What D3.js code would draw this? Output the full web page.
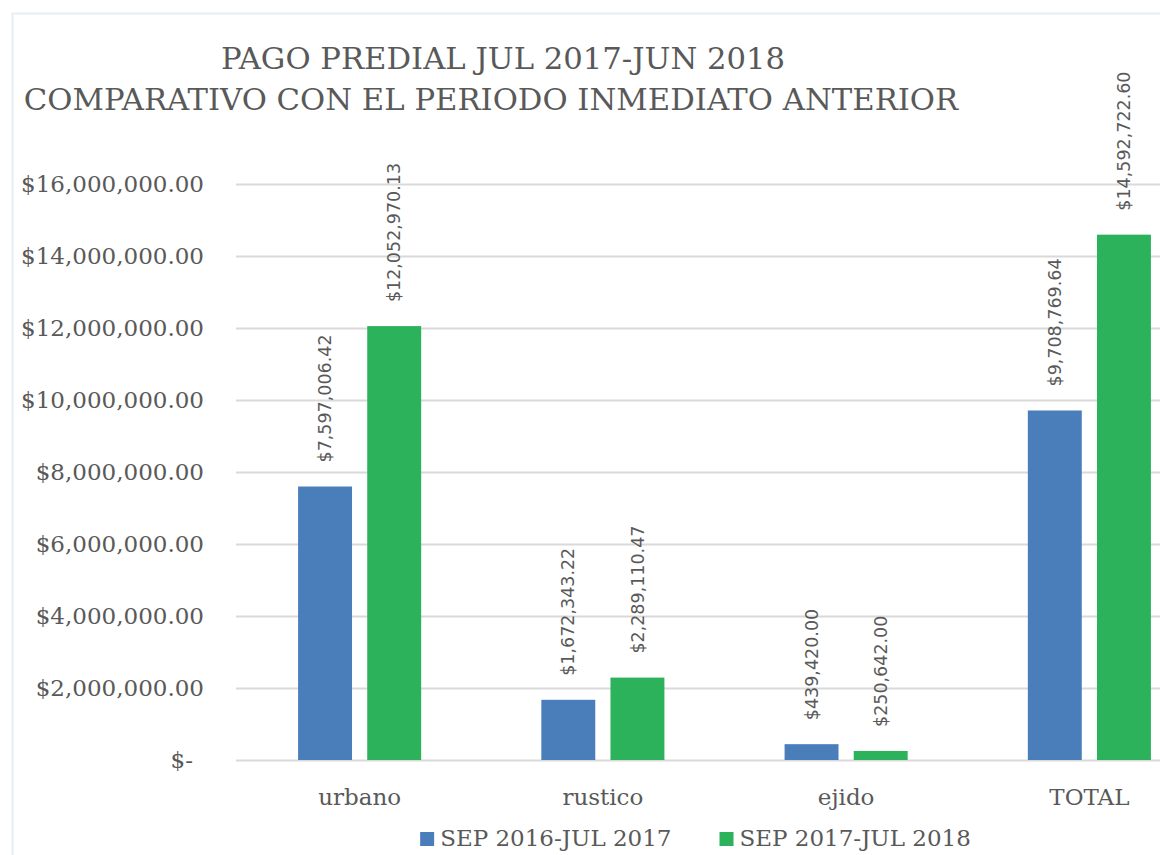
<!DOCTYPE html>
<html>
<head>
<meta charset="utf-8">
<script src="https://cdnjs.cloudflare.com/ajax/libs/d3/7.8.5/d3.min.js"></script>
<style>
  html, body { margin: 0; padding: 0; background: #fff; }
  svg { display: block; }
  .grid line { stroke: #d9d9d9; stroke-width: 2px; }
  .grid path { display: none; }
  .axis text { font-family: "DejaVu Serif", serif; fill: #595959; }
  .valueLabel { font-family: "DejaVu Sans", sans-serif; fill: #595959; }
</style>
</head>
<body>
<svg width="1160" height="855"></svg>
<script>
/*
data
*/
var titleLines = ["PAGO PREDIAL JUL 2017-JUN 2018", "COMPARATIVO CON EL PERIODO INMEDIATO ANTERIOR"];
var categories = ["urbano", "rustico", "ejido", "TOTAL"];
var seriesNames = ["SEP 2016-JUL 2017", "SEP 2017-JUL 2018"];
var prevValues = [7597006.42, 1672343.22, 439420.00, 9708769.64];
var currValues = [12052970.13, 2289110.47, 250642.00, 14592722.60];
var yTicks = [0, 2000000, 4000000, 6000000, 8000000, 10000000, 12000000, 14000000, 16000000];
var colors = ["#4a7ebb", "#2bb25b"];

var svg = d3.select("svg"),
    width = +svg.attr("width"),
    height = +svg.attr("height");

// faint frame of the original picture
svg.append("rect")
    .attr("x", 12.5).attr("y", 13.5)
    .attr("width", width).attr("height", height)
    .attr("fill", "none")
    .attr("stroke", "#e6eef3")
    .attr("stroke-width", 2);

var seriesData = [prevValues, currValues];

var x0 = d3.scaleBand()
    .domain(categories)
    .range([238, 1211])
    .paddingInner(0.494)
    .paddingOuter(0.247);

var x1 = d3.scaleBand()
    .domain(d3.range(seriesNames.length))
    .range([0, x0.bandwidth()])
    .paddingInner(0.22);

var yScale = d3.scaleLinear()
    .domain([0, 16000000])
    .range([760, 184]);

// title
svg.selectAll(".title")
    .data(titleLines)
    .enter().append("text")
      .attr("class", "title")
      .attr("x", function(d, i) { return i === 0 ? 503 : 491; })
      .attr("y", function(d, i) { return i === 0 ? 69 : 110; })
      .attr("text-anchor", "middle")
      .style("font-family", "'DejaVu Serif', serif")
      .style("font-size", "30.7px")
      .style("fill", "#595959")
      .text(function(d) { return d; });

// gridlines
svg.append("g")
    .attr("class", "grid")
    .attr("transform", "translate(236,0)")
    .call(d3.axisRight(yScale)
        .tickValues(yTicks)
        .tickSize(width - 236)
        .tickFormat(""));

// y axis labels
var money = d3.format("$,.2f");
var yAxis = svg.append("g")
    .attr("class", "axis axis--y")
    .attr("transform", "translate(204,0)")
    .call(d3.axisLeft(yScale)
        .tickValues(yTicks)
        .tickSize(0)
        .tickPadding(0)
        .tickFormat(function(d) { return d === 0 ? "$-" : money(d); }));
yAxis.select(".domain").remove();
yAxis.selectAll("text")
    .style("font-size", "23px")
    .attr("x", function(d) { return d === 0 ? -11 : 0; });

// x axis labels
var xAxis = svg.append("g")
    .attr("class", "axis axis--x")
    .attr("transform", "translate(0,760)")
    .call(d3.axisBottom(x0).tickSize(0).tickPadding(0));
xAxis.select(".domain").remove();
xAxis.selectAll("text")
    .style("font-size", "23px")
    .attr("dy", null)
    .attr("y", 45);

// bars
var group = svg.selectAll(".cat")
    .data(categories)
    .enter().append("g")
      .attr("class", "cat")
      .attr("transform", function(d) { return "translate(" + x0(d) + ",0)"; });

var bars = group.selectAll(".bar")
    .data(function(d, ci) {
        return seriesData.map(function(vals, si) { return {series: si, value: vals[ci]}; });
    })
    .enter();

bars.append("rect")
    .attr("class", "bar")
    .attr("x", function(d) { return x1(d.series); })
    .attr("y", function(d) { return yScale(d.value); })
    .attr("width", x1.bandwidth())
    .attr("height", function(d) { return yScale(0) - yScale(d.value); })
    .attr("fill", function(d) { return colors[d.series]; });

bars.append("text")
    .attr("class", "valueLabel")
    .attr("transform", function(d) {
        return "translate(" + (x1(d.series) + x1.bandwidth() / 2) + "," + (yScale(d.value) - 24) + ") rotate(-90)";
    })
    .attr("dy", "0.35em")
    .style("font-size", "17.5px")
    .text(function(d) { return money(d.value); });

// legend
var legend = svg.append("g").attr("class", "legend");
var item = legend.selectAll(".item")
    .data(seriesNames)
    .enter().append("g")
      .attr("class", "item");

item.append("rect")
    .attr("width", 14)
    .attr("height", 14)
    .attr("y", -14)
    .attr("fill", function(d, i) { return colors[i]; });

item.append("text")
    .attr("x", 20)
    .style("font-family", "'DejaVu Serif', serif")
    .style("font-size", "23px")
    .style("fill", "#595959")
    .text(function(d) { return d; });

var pos = 0, offsets = [];
item.each(function() {
    offsets.push(pos);
    pos += 20 + d3.select(this).select("text").node().getComputedTextLength() + 48;
});
var total = pos - 48;
item.attr("transform", function(d, i) { return "translate(" + offsets[i] + ",0)"; });
legend.attr("transform", "translate(" + (695.5 - total / 2) + ",846)");
</script>
</body>
</html>
